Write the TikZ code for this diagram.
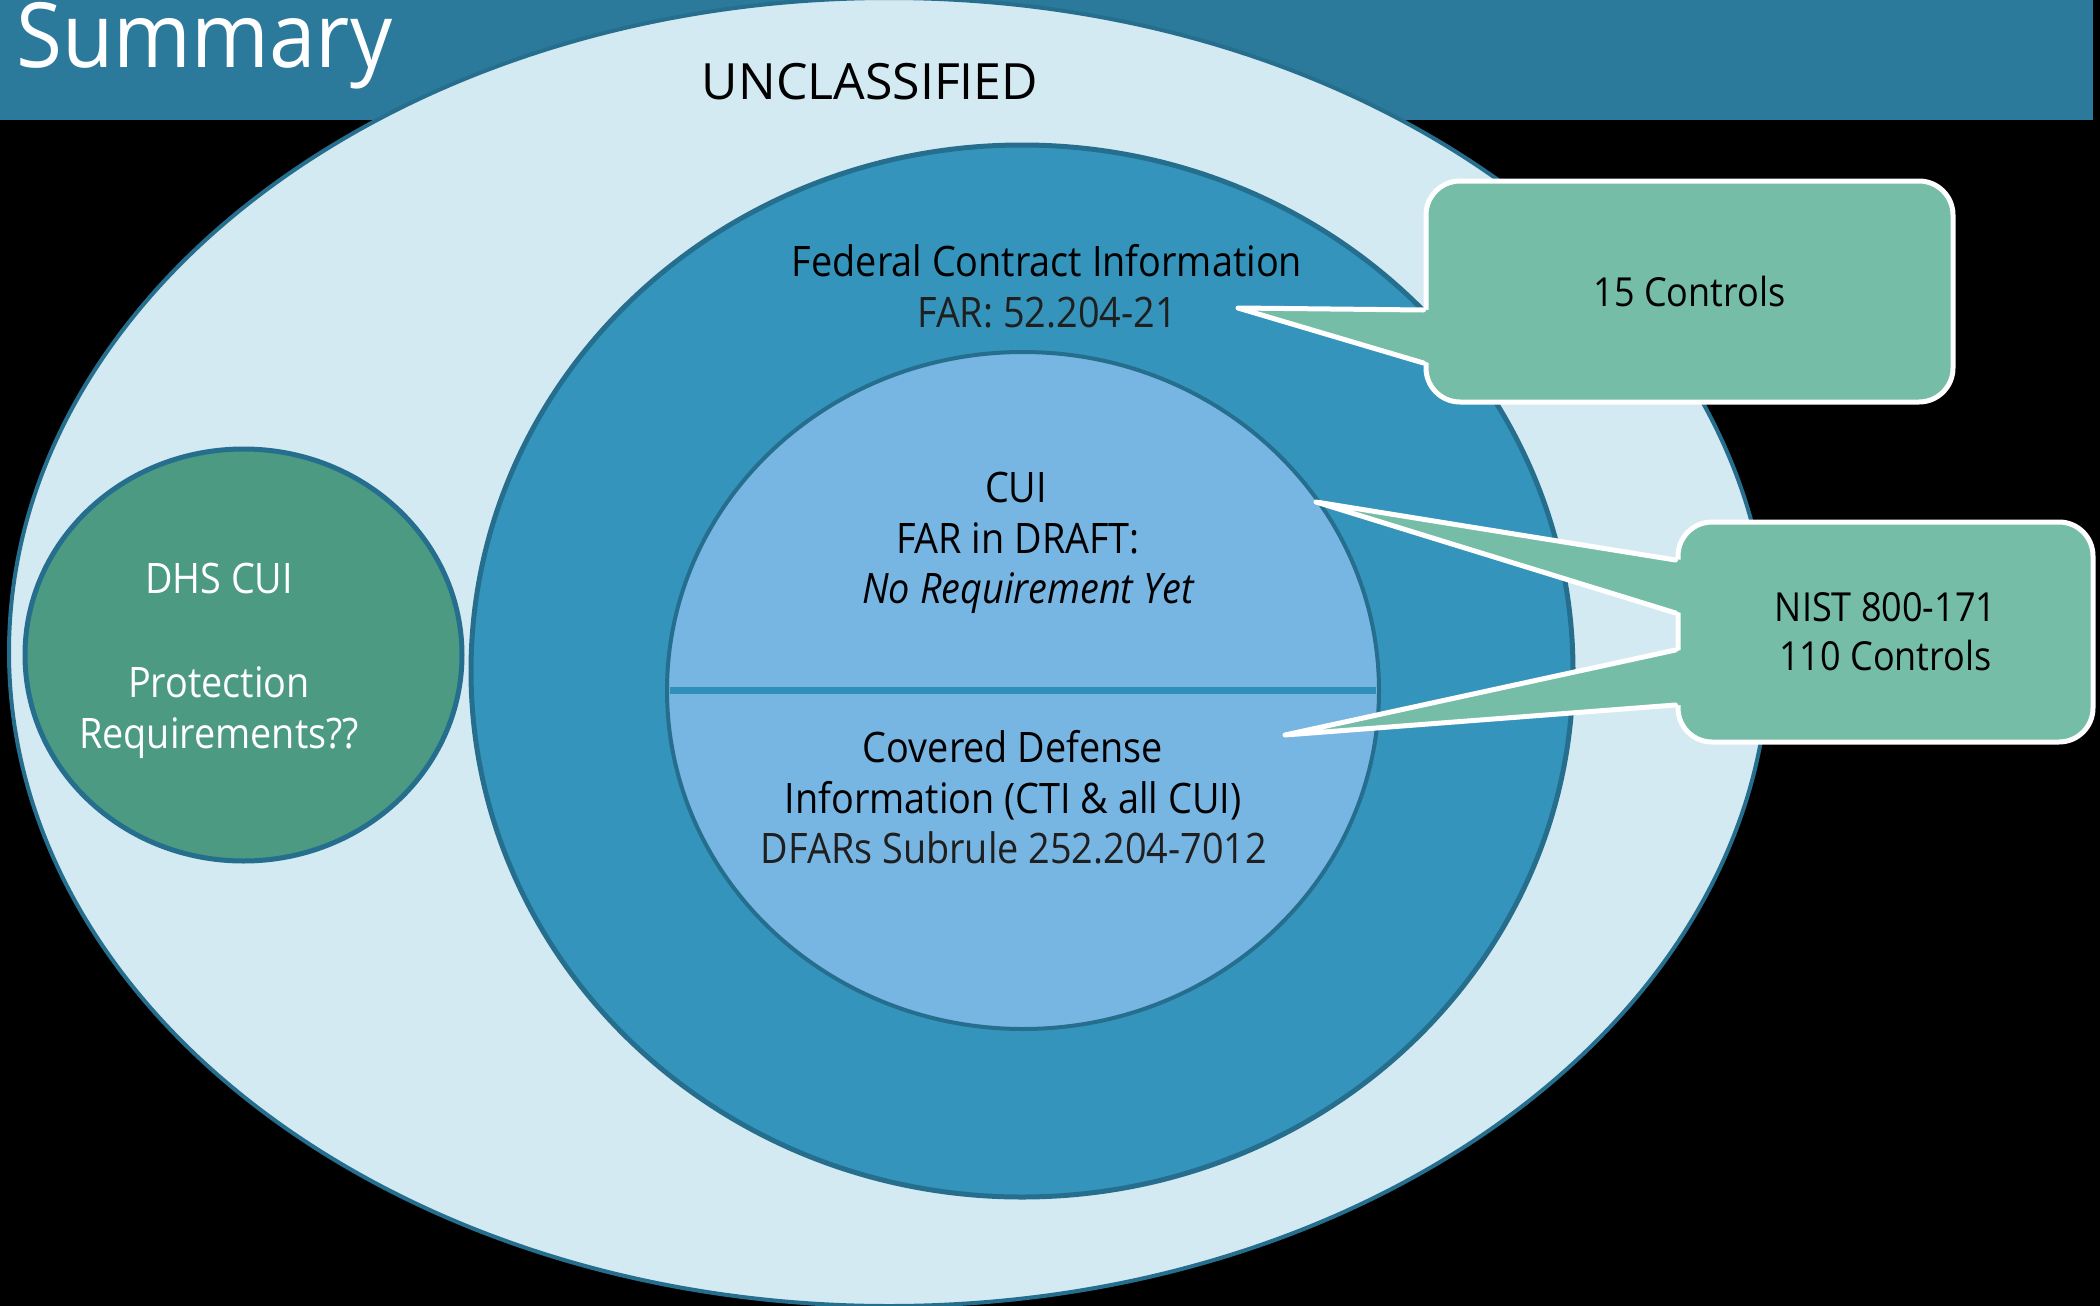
\documentclass[tikz,border=0pt]{standalone}
\usepackage{fontspec}
% body text is set slightly condensed; capitals and the title use their own widths
\setmainfont{Open Sans}[FakeStretch=0.9]
\newfontfamily\capsfont{Open Sans}
\newfontfamily\titlefont{Open Sans}[FakeStretch=0.93]
\usetikzlibrary{shapes.geometric,calc}

\definecolor{barblue}{HTML}{2C7A9B}
\definecolor{ringline}{HTML}{266E8E}
\definecolor{outerfill}{HTML}{D4EAF2}
\definecolor{midfill}{HTML}{3594BC}
\definecolor{innerfill}{HTML}{77B5E3}
\definecolor{splitline}{HTML}{2E90B8}
\definecolor{dhsfill}{HTML}{4B9A81}
\definecolor{callfill}{HTML}{75BDA7}

\begin{document}
\begin{tikzpicture}[x=0.5pt,y=-0.5pt,
  ring/.style={ellipse, draw=ringline, line width=2pt, inner sep=0pt, outer sep=0pt},
  body/.style={anchor=base, inner sep=0pt, font=\fontsize{21}{25.5}\selectfont, text=black},
  lightbody/.style={body, text=black!88},
  calloutbox/.style={rectangle, rounded corners=17pt, fill=callfill, draw=white,
    line width=2.5pt, inner sep=0pt, align=center,
    font=\fontsize{20}{24.5}\selectfont},
  tailfill/.style={fill=callfill},
  tailedge/.style={draw=white, line width=2.5pt, line cap=round, line join=round},
]
% page background and header bar
\fill[black] (0,0) rectangle (2100,1306);
\useasboundingbox (0,0) rectangle (2100,1306);
\fill[barblue] (0,0) rectangle (2093,120);
\node[anchor=base west, inner sep=0pt, text=white,
      font=\titlefont\fontsize{45}{50}\selectfont] (title) at (16,67) {Summary};

% nested regions
\node[ring, fill=outerfill, minimum width=880pt, minimum height=654pt] (uncl) at (889,652) {};
\node[ring, line width=2.5pt, fill=midfill, minimum width=551pt, minimum height=526pt] (fci) at (1022,671) {};
\node[ring, fill=innerfill, minimum width=356pt, minimum height=338.5pt] (cui) at (1023,690.5) {};
\draw[splitline, line width=3.5pt, shorten <=1.5pt, shorten >=1.5pt] (cui.west) -- (cui.east);
\node[ring, line width=2.5pt, fill=dhsfill, minimum width=218.5pt, minimum height=206pt] (dhs) at (243.5,655) {};

% region labels
\node[body, font=\capsfont\fontsize{25}{30}\selectfont] (unclText) at (870,99) {UNCLASSIFIED};

\node[body] (fciTitle) at (1047,276) {Federal Contract Information};
\node[lightbody] (fciRule) at (1047,327) {FAR: 52.204-21};

\node[body] (cuiTitle) at (1016,502) {CUI};
\node[body] (cuiRule) at (1018,553) {FAR in DRAFT:};
\node[body, font=\fontsize{21}{25.5}\selectfont\itshape] (cuiNote) at (1028,603) {No Requirement Yet};

\node[body] (cdiTitle) at (1013,762) {Covered Defense};
\node[body] (cdiScope) at (1013,813) {Information (CTI \& all CUI)};
\node[lightbody] (cdiRule) at (1014,863) {DFARs Subrule 252.204-7012};

\node[body, text=white] (dhsTitle) at (219,593) {DHS CUI};
\node[body, text=white] (dhsQ1) at (219,697) {Protection};
\node[body, text=white] (dhsQ2) at (219,748) {Requirements??};

% callout: 15 controls
\node[calloutbox, minimum width=263.5pt, minimum height=110.5pt] (box15) at (1689.5,291.5) {15 Controls};
\coordinate (tip15) at (1238,308);
\coordinate (box15a) at ($(box15.west)+(0,18.5)$);
\coordinate (box15b) at ($(box15.west)+(0,71.5)$);
\fill[tailfill] (tip15) -- ($(box15a)+(6,0)$) -- ($(box15b)+(6,0)$) -- cycle;
\draw[tailedge] (box15a) -- (tip15) -- (box15b);

% callout: NIST 800-171
\node[calloutbox, minimum width=207.5pt, minimum height=110pt] (boxNist) at (1885.5,632) {NIST 800-171\\110 Controls};
\coordinate (tipCui) at (1316,502);
\coordinate (tipCdi) at (1285,735);
\coordinate (nistA1) at ($(boxNist.west)+(0,-72)$);
\coordinate (nistA2) at ($(boxNist.west)+(0,-19)$);
\coordinate (nistB1) at ($(boxNist.west)+(0,18)$);
\coordinate (nistB2) at ($(boxNist.west)+(0,73)$);
\fill[tailfill] (tipCui) -- ($(nistA1)+(6,0)$) -- ($(nistA2)+(6,0)$) -- cycle;
\fill[tailfill] (tipCdi) -- ($(nistB1)+(6,0)$) -- ($(nistB2)+(6,0)$) -- cycle;
\draw[tailedge] (nistA1) -- (tipCui) -- (nistA2);
\draw[tailedge] (nistB1) -- (tipCdi) -- (nistB2);
\end{tikzpicture}
\end{document}
